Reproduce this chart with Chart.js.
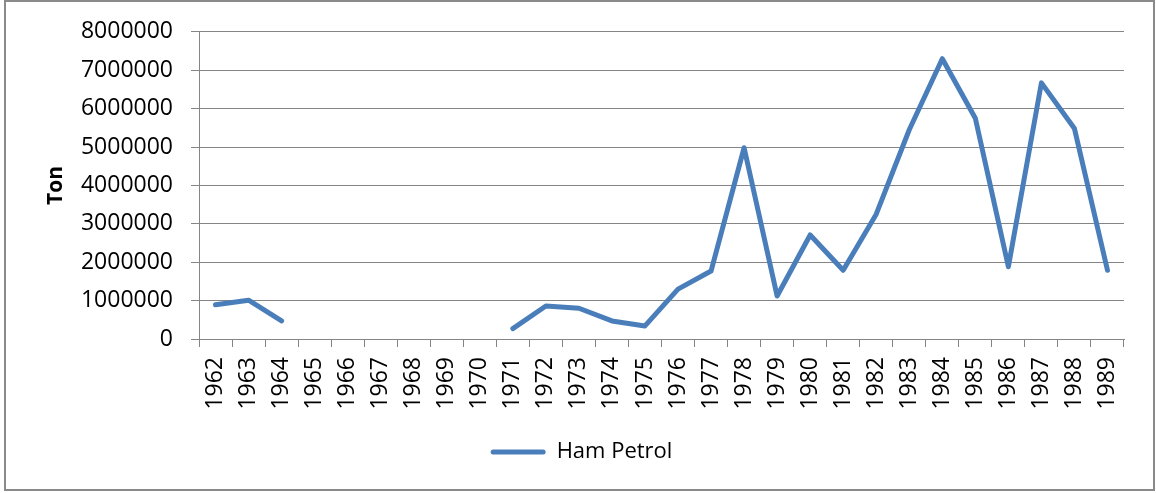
<!DOCTYPE html>
<html>
<head>
<meta charset="utf-8">
<script src="https://cdn.jsdelivr.net/npm/chart.js@4"></script>
<style>
    body { margin: 0; background: #fff; }
    #frame {
        position: absolute; left: 4px; top: 0; width: 1151px; height: 491px;
        box-sizing: border-box; border: 2px solid #8a8a8a;
    }
    #myChartPetrol { position: absolute; left: 0; top: 0; }
</style>
</head>
<body>
<div id="frame"></div>
<canvas id="myChartPetrol" width="1156" height="493"></canvas>
<script>
const LINE_BLUE = '#4a7ebb';
const GRID_GREY = '#858585';
const FONT = "'Open Sans', sans-serif";

// Yillar ve ham petrol miktari (ton); bos yillar null
let yillar = ['1962', '1963', '1964', '1965', '1966', '1967', '1968', '1969', '1970', '1971',
              '1972', '1973', '1974', '1975', '1976', '1977', '1978', '1979', '1980', '1981',
              '1982', '1983', '1984', '1985', '1986', '1987', '1988', '1989'];
let hamPetrol = [890000, 1010000, 470000, null, null, null, null, null, null, 270000,
                 860000, 800000, 470000, 340000, 1300000, 1770000, 4980000, 1120000, 2710000, 1790000,
                 3250000, 5450000, 7300000, 5750000, 1880000, 6670000, 5480000, 1790000];
let yTicks = [0, 1000000, 2000000, 3000000, 4000000, 5000000, 6000000, 7000000, 8000000];

var ctxPetrol = document.getElementById('myChartPetrol').getContext('2d');

let petrolChart = new Chart(ctxPetrol, {
    type: 'line',
    data: {
        labels: yillar,
        datasets: [{
            label: 'Ham Petrol',
            data: hamPetrol,
            borderColor: LINE_BLUE,
            backgroundColor: LINE_BLUE,
            borderWidth: 5,
            tension: 0,
            pointRadius: 0,
            spanGaps: false,
            borderCapStyle: 'round',
            borderJoinStyle: 'round'
        }]
    },
    options: {
        responsive: false,
        animation: false,
        layout: {
            padding: { left: 39, right: 32, top: 30, bottom: 20 }
        },
        plugins: {
            tooltip: { enabled: false },
            legend: {
                position: 'bottom',
                labels: {
                    color: '#000',
                    font: { family: FONT, size: 22 },
                    boxWidth: 55,
                    boxHeight: 5,
                    useBorderRadius: true,
                    borderRadius: 2.5,
                    generateLabels: function (chart) {
                        return Chart.defaults.plugins.legend.labels.generateLabels(chart).map(function (item) {
                            item.lineWidth = 0;
                            item.fillStyle = LINE_BLUE;
                            return item;
                        });
                    }
                }
            }
        },
        scales: {
            x: {
                offset: true,
                afterFit: function (scale) { scale.height = 92; },
                grid: {
                    offset: true,
                    drawOnChartArea: false,
                    color: GRID_GREY,
                    tickLength: 8
                },
                border: { color: GRID_GREY },
                ticks: {
                    color: '#000',
                    font: { family: FONT, size: 23 },
                    minRotation: 90,
                    maxRotation: 90,
                    autoSkip: false,
                    padding: 10
                }
            },
            y: {
                min: 0,
                max: 8000000,
                afterFit: function (scale) { scale.width = 160; },
                afterBuildTicks: function (scale) {
                    scale.ticks = yTicks.map(function (v) { return { value: v }; });
                },
                title: {
                    display: true,
                    text: 'Ton',
                    color: '#000',
                    font: { family: FONT, size: 21, weight: 'bold' }
                },
                grid: {
                    color: GRID_GREY,
                    tickLength: 8
                },
                border: { color: GRID_GREY },
                ticks: {
                    color: '#000',
                    font: { family: FONT, size: 23 },
                    padding: 18,
                    callback: function (value) { return String(value); }
                }
            }
        }
    }
});
</script>
</body>
</html>
